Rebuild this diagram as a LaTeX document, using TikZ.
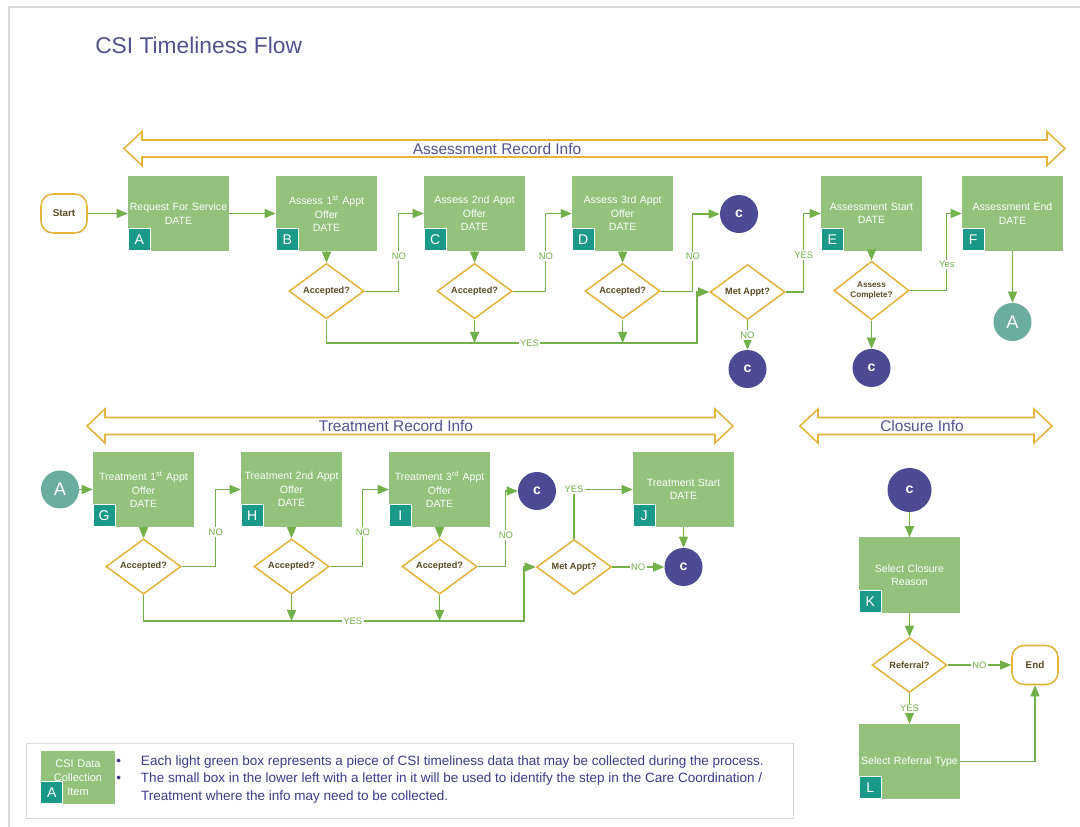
\documentclass[tikz,border=0pt]{standalone}
\usepackage{fontspec}
\setmainfont{Liberation Sans}
\usetikzlibrary{arrows,shapes}
\definecolor{boxgreen}{HTML}{92C27B}
\definecolor{tabteal}{HTML}{1A9988}
\definecolor{gold}{HTML}{E3B43E}
\definecolor{connblue}{HTML}{4B4A92}
\definecolor{backteal}{HTML}{6BAE9F}
\definecolor{linegreen}{HTML}{72B04A}
\definecolor{titleblue}{HTML}{52528F}
\definecolor{decbrown}{HTML}{5A4A22}
\definecolor{legendblue}{HTML}{3C3C8A}
\definecolor{framegray}{HTML}{DADADA}
\tikzstyle{block} = [rectangle, fill=boxgreen, text=white, text width=2.45cm, text centered,
    minimum width=2.525cm, minimum height=1.875cm, inner sep=1pt,
    font=\fontsize{7.5}{9.6}\selectfont]
\tikzstyle{tab} = [rectangle, fill=tabteal, draw=white, line width=0.7pt, text=white,
    minimum size=0.55cm, inner sep=0pt, anchor=south west, font=\fontsize{10}{12}\selectfont]
\tikzstyle{decision} = [diamond, draw=gold, fill=white, line width=1.1pt, minimum width=1.875cm,
    minimum height=1.375cm, inner sep=0pt, text=decbrown, align=center,
    font=\bfseries\fontsize{6.5}{7.5}\selectfont]
\tikzstyle{term} = [rectangle, rounded corners=0.3cm, draw=gold, fill=white, line width=1.1pt,
    minimum width=1.15cm, minimum height=0.975cm, text=decbrown,
    font=\bfseries\fontsize{7}{8}\selectfont]
\tikzstyle{conn} = [circle, fill=connblue, text=white, minimum size=0.95cm, inner sep=0pt,
    font=\bfseries\fontsize{10}{12}\selectfont]
\tikzstyle{back} = [circle, fill=backteal, text=white, minimum size=0.95cm, inner sep=0pt,
    font=\fontsize{13}{15}\selectfont]
\tikzstyle{flow} = [color=linegreen, line width=0.8pt]
\tikzstyle{lbl} = [fill=white, text=linegreen, inner sep=1pt, font=\fontsize{6.7}{8}\selectfont]
\tikzstyle{band} = [-, draw=gold, fill=white, line width=1.1pt]
\tikzstyle{bandtext} = [text=titleblue, font=\fontsize{11}{13}\selectfont]

\begin{document}
\begin{tikzpicture}[->,>=triangle 45,x=0.025cm,y=-0.025cm,node distance=3.7cm]
  \useasboundingbox[fill=white] (0,0) rectangle (1080,827);
  \draw[-,framegray,line width=0.8pt] (9,840) -- (9,7) -- (1090,7);
  \node[anchor=west,inner sep=0pt,text=titleblue,font=\fontsize{16.2}{19}\selectfont] (title) at (95,45) {CSI Timeliness Flow};

  % info bands
  \draw[band] (124,148.5) -- (142,131.5) -- (142,140) -- (1047,140) -- (1047,131.5) -- (1065,148.5)
    -- (1047,165.5) -- (1047,157) -- (142,157) -- (142,165.5) -- cycle;
  \node[bandtext] (assinfo) at (497,148.5) {Assessment Record Info};
  \draw[band] (87,426) -- (105,409) -- (105,417.5) -- (715,417.5) -- (715,409) -- (733,426)
    -- (715,443) -- (715,434.5) -- (105,434.5) -- (105,443) -- cycle;
  \node[bandtext] (trinfo) at (396,426) {Treatment Record Info};
  \draw[band] (800,426) -- (818,409) -- (818,417.5) -- (1034,417.5) -- (1034,409) -- (1052,426)
    -- (1034,443) -- (1034,434.5) -- (818,434.5) -- (818,443) -- cycle;
  \node[bandtext] (clinfo) at (922,426) {Closure Info};

  % assessment row
  \node[term] (start) at (64,213.5) {Start};
  \node[block] (reqA) at (178.5,213.5) {Request For Service\\DATE};
  \node[block,right of=reqA] (assB) {Assess 1\textsuperscript{st} Appt\\Offer\\DATE};
  \node[block,right of=assB] (assC) {Assess 2nd Appt\\Offer\\DATE};
  \node[block,right of=assC] (assD) {Assess 3rd Appt\\Offer\\DATE};
  \node[block] (startE) at (871.5,213.5) {Assessment Start\\DATE};
  \node[block] (endF) at (1012.5,213.5) {Assessment End\\DATE};
  \node[tab] (tabA) at (reqA.south west) {A};
  \node[tab] (tabB) at (assB.south west) {B};
  \node[tab] (tabC) at (assC.south west) {C};
  \node[tab] (tabD) at (assD.south west) {D};
  \node[tab] (tabE) at (startE.south west) {E};
  \node[tab] (tabF) at (endF.south west) {F};
  \node[decision,node distance=1.94cm,below of=assB] (accB) {Accepted?};
  \node[decision,node distance=1.94cm,below of=assC] (accC) {Accepted?};
  \node[decision,node distance=1.94cm,below of=assD] (accD) {Accepted?};
  \node[decision] (metA) at (747.5,292) {Met Appt?};
  \node[decision,node distance=1.925cm,below of=startE,
        font=\bfseries\fontsize{5.8}{6.6}\selectfont] (compE) {Assess\\Complete?};
  \node[conn] (offC) at (739,214) {c};
  \node[conn] (metC) at (747.5,369) {c};
  \node[conn] (compC) at (871.5,368) {c};
  \node[back] (toTr) at (1012.5,322) {A};
  \coordinate (yesA) at (697,343);

  \path[flow] (start) edge (reqA)
        (reqA) edge (assB)
        (assB) edge (accB)
        (assC) edge (accC)
        (assD) edge (accD)
        (metA) edge node[lbl] {NO} (metC)
        (startE) edge (compE)
        (compE) edge (compC)
        (endF) edge (toTr);
  \draw[flow] (accB.east) -- ++(34,0) |- node[lbl,pos=0.225] {NO} (assC.west);
  \draw[flow] (accC.east) -- ++(33,0) |- node[lbl,pos=0.225] {NO} (assD.west);
  \draw[flow] (accD.east) -- ++(32,0) |- node[lbl,pos=0.225] {NO} (offC.west);
  \draw[flow] (accB.south) |- node[lbl,pos=0.774] {YES} (yesA) |- (metA.west);
  \draw[flow] (accC.south) -- (accC.south |- yesA);
  \draw[flow] (accD.south) -- (accD.south |- yesA);
  \draw[flow] (metA.east) -- ++(18,0) |- node[lbl,pos=0.235] {YES} (startE.west);
  \draw[flow] (compE.east) -- ++(37,0) |- node[lbl,pos=0.17] {Yes} (endF.west);

  % treatment row
  \node[back] (fromAs) at (60,489.5) {A};
  \node[block] (trG) at (143.5,489.5) {Treatment 1\textsuperscript{st} Appt\\Offer\\DATE};
  \node[block,right of=trG] (trH) {Treatment 2nd Appt\\Offer\\DATE};
  \node[block,right of=trH] (trI) {Treatment 3\textsuperscript{rd} Appt\\Offer\\DATE};
  \node[block] (trJ) at (683.5,489.5) {Treatment Start\\DATE};
  \node[tab] (tabG) at (trG.south west) {G};
  \node[tab] (tabH) at (trH.south west) {H};
  \node[tab] (tabI) at (trI.south west) {I};
  \node[tab] (tabJ) at (trJ.south west) {J};
  \node[decision,node distance=1.925cm,below of=trG] (accG) {Accepted?};
  \node[decision,node distance=1.925cm,below of=trH] (accH) {Accepted?};
  \node[decision,node distance=1.925cm,below of=trI] (accI) {Accepted?};
  \node[decision] (metT) at (574,567) {Met Appt?};
  \node[conn] (offT) at (537,491) {c};
  \node[conn] (metTC) at (683.5,567) {c};
  \coordinate (yesT) at (524,621);

  \path[flow] (fromAs) edge (trG)
        (trG) edge (accG)
        (trH) edge (accH)
        (trI) edge (accI)
        (metT) edge node[lbl] {NO} (metTC)
        (trJ) edge (metTC);
  \draw[flow] (accG.east) -- ++(34,0) |- node[lbl,pos=0.224] {NO} (trH.west);
  \draw[flow] (accH.east) -- ++(33,0) |- node[lbl,pos=0.224] {NO} (trI.west);
  \draw[flow] (accI.east) -- ++(28,0) |- node[lbl,pos=0.21] {NO} (offT.west);
  \draw[flow] (accG.south) |- node[lbl,pos=0.775] {YES} (yesT) |- (metT.west);
  \draw[flow] (accH.south) -- (accH.south |- yesT);
  \draw[flow] (accI.south) -- (accI.south |- yesT);
  \draw[flow] (metT.north) |- node[lbl,pos=0.5] {YES} (trJ.west);

  % closure
  \node[conn,minimum size=1.1cm] (clC) at (909.5,490) {c};
  \node[block] (selK) at (909.5,575) {Select Closure\\Reason};
  \node[decision] (refq) at (909.5,665) {Referral?};
  \node[term] (endT) at (1035,665) {End};
  \node[block] (selL) at (909.5,761.5) {Select Referral Type};
  \node[tab] (tabK) at (selK.south west) {K};
  \node[tab] (tabL) at (selL.south west) {L};

  \path[flow] (clC) edge (selK)
        (selK) edge (refq)
        (refq) edge node[lbl] {NO} (endT)
        (refq) edge node[lbl] {YES} (selL);
  \draw[flow] (selL.east) -| (endT.south);

  % legend
  \node[draw=framegray,line width=0.6pt,minimum width=19.15cm,minimum height=1.875cm] (legend) at (410,780.5) {};
  \node[block,minimum width=1.85cm,minimum height=1.325cm,text width=1.8cm,
        font=\fontsize{7.8}{10}\selectfont] (legG) at (78,777.5) {CSI Data\\Collection\\Item};
  \node[tab] (legA) at (legG.south west) {A};
  \node[anchor=west,text=legendblue,inner sep=0pt,font=\fontsize{9.6}{12.4}\selectfont] (legtxt) at (116,779.5)
    {\begin{tabular}{@{}c@{\hspace{0.5cm}}l@{}}
      \textbullet & Each light green box represents a piece of CSI timeliness data that may be collected during the process.\\
      \textbullet & The small box in the lower left with a letter in it will be used to identify the step in the Care Coordination /\\
       & Treatment where the info may need to be collected.
    \end{tabular}};
\end{tikzpicture}
\end{document}
